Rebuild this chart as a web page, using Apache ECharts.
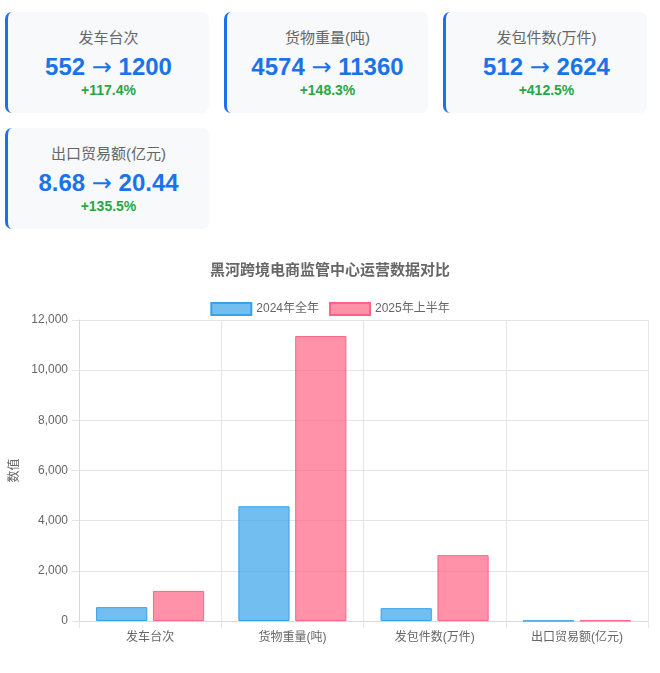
<!DOCTYPE html>
<html>
<head>
<meta charset="utf-8">
<script src="https://cdn.jsdelivr.net/npm/echarts@6/dist/echarts.min.js"></script>
<style>
    body { margin: 0; background: #fff; font-family: "Liberation Sans", Arial, "Noto Sans CJK SC", sans-serif; }
    .cards { display: grid; grid-template-columns: repeat(3, 204px); gap: 15px; padding: 12px 5px 0 5px; }
    .card { height: 101px; box-sizing: border-box; background: #f8f9fa; border-left: 3px solid #1a73e8; border-radius: 7px; text-align: center; padding-top: 16px; }
    .card .label { font-size: 15px; line-height: 20px; color: #666; }
    .card .value { font-size: 24px; line-height: 30px; height: 30px; font-weight: bold; color: #1a73e8; margin-top: 4px; }
    .card .value .arrow { font-family: "DejaVu Sans", sans-serif; font-weight: normal; line-height: 0; }
    .card .change { font-size: 14px; line-height: 16px; font-weight: bold; color: #28a745; }
    #chart { position: absolute; left: 0; top: 245px; width: 660px; height: 428px; }
</style>
</head>
<body>
<div class="cards" id="cards"></div>
<div id="chart"></div>
<script>
    const categories = ['发车台次', '货物重量(吨)', '发包件数(万件)', '出口贸易额(亿元)']
    const values2024 = [552, 4574, 512, 8.68]
    const values2025 = [1200, 11360, 2624, 20.44]
    const changes = ['+117.4%', '+148.3%', '+412.5%', '+135.5%']
    const seriesNames = ['2024年全年', '2025年上半年']

    // 顶部卡片
    const cardsEl = document.getElementById('cards')
    categories.forEach((name, i) => {
        const card = document.createElement('div')
        card.className = 'card'
        card.innerHTML = '<div class="label">' + name + '</div>' +
            '<div class="value">' + values2024[i] + ' <span class="arrow">\u2192</span> ' + values2025[i] + '</div>' +
            '<div class="change">' + changes[i] + '</div>'
        cardsEl.appendChild(card)
    })

    const fontFamily = '"Liberation Sans", Arial, "Noto Sans CJK SC", sans-serif'
    const mChart = echarts.init(document.getElementById('chart'))
    const option = {
        textStyle: { fontFamily: fontFamily },
        title: {
            text: '黑河跨境电商监管中心运营数据对比',
            left: 'center',
            top: 13,
            textStyle: { fontSize: 15, fontWeight: 'bold', color: '#666' }
        },
        legend: {
            top: 52,
            left: 'center',
            itemWidth: 40,
            itemHeight: 12,
            itemGap: 10,
            textStyle: { fontSize: 12, color: '#666' },
            data: seriesNames.map(n => ({ name: n, icon: 'rect' }))
        },
        grid: { left: 79, right: 12, top: 75, bottom: 52, containLabel: false },
        xAxis: {
            type: 'category',
            data: categories,
            axisLine: { lineStyle: { color: '#d9d9d9' } },
            axisTick: { show: true, length: 7, lineStyle: { color: '#e5e5e5' } },
            axisLabel: { color: '#666', fontSize: 12, margin: 11 },
            splitLine: { show: true, lineStyle: { color: '#e5e5e5' } }
        },
        yAxis: {
            type: 'value',
            min: 0,
            max: 12000,
            interval: 2000,
            name: '数值',
            nameLocation: 'middle',
            nameGap: 55,
            nameTextStyle: { color: '#666', fontSize: 12 },
            axisLine: { show: true, lineStyle: { color: '#d9d9d9' } },
            axisTick: { show: true, length: 7, lineStyle: { color: '#e5e5e5' } },
            axisLabel: {
                color: '#666',
                fontSize: 12,
                margin: 11,
                formatter: v => v.toLocaleString('en-US')
            },
            splitLine: { show: true, lineStyle: { color: '#e5e5e5' } }
        },
        series: [
            {
                name: seriesNames[0],
                type: 'bar',
                barWidth: '36%',
                barGap: '11%',
                itemStyle: { color: 'rgba(54,162,235,0.7)', borderColor: 'rgb(54,162,235)', borderWidth: 1 },
                data: values2024
            },
            {
                name: seriesNames[1],
                type: 'bar',
                barWidth: '36%',
                barGap: '11%',
                itemStyle: { color: 'rgba(255,99,132,0.7)', borderColor: 'rgb(255,99,132)', borderWidth: 1 },
                data: values2025
            }
        ]
    }
    mChart.setOption(option)
    window.addEventListener('resize', function() {
        mChart.resize()
    })
</script>
</body>
</html>
